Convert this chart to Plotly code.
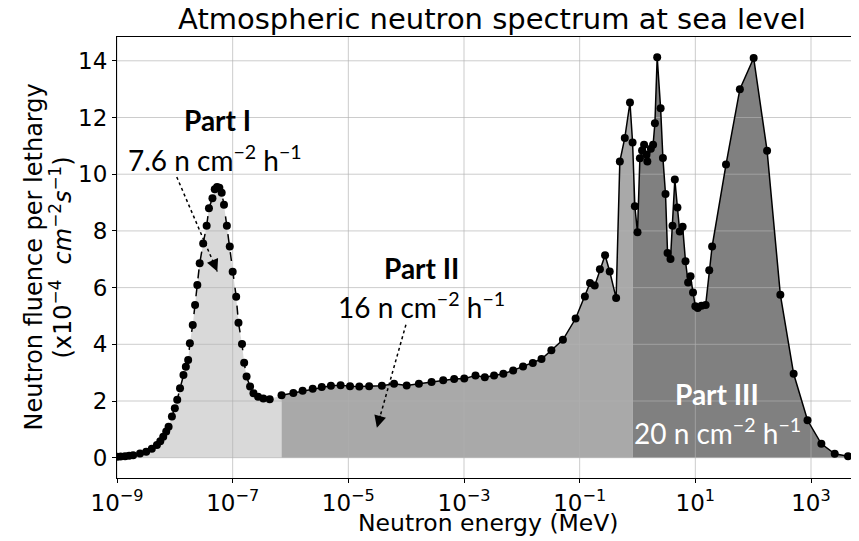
import plotly.graph_objects as go

# Part I: thermal peak (energy in MeV, fluence per lethargy x1e-4 cm^-2 s^-1)
energy_1 = [1.0e-9, 1.15e-9, 1.38e-9, 1.62e-9, 1.9e-9, 2.5e-9, 3.2e-9, 4.0e-9, 4.9e-9,
            5.6e-9, 6.3e-9, 7.1e-9, 7.8e-9, 8.9e-9, 1.0e-8, 1.1e-8, 1.23e-8, 1.41e-8,
            1.55e-8, 1.7e-8, 1.82e-8, 2.04e-8, 2.24e-8, 2.45e-8, 2.69e-8, 3.09e-8,
            3.55e-8, 3.89e-8, 4.47e-8, 4.9e-8, 5.37e-8, 5.89e-8, 6.46e-8, 7.08e-8,
            7.94e-8, 8.91e-8, 1.0e-7, 1.15e-7, 1.26e-7, 1.45e-7, 1.58e-7, 1.74e-7,
            2.0e-7, 2.29e-7, 2.75e-7, 3.39e-7, 4.37e-7]
fluence_1 = [0.03, 0.04, 0.05, 0.07, 0.09, 0.15, 0.21, 0.32, 0.45,
             0.58, 0.74, 0.92, 1.09, 1.45, 1.74, 2.04, 2.45, 2.92,
             3.21, 3.45, 4.04, 4.68, 5.39, 6.09, 6.86, 7.56,
             8.18, 8.80, 9.15, 9.47, 9.55, 9.52, 9.35, 8.92,
             8.18, 7.45, 6.56, 5.68, 4.76, 4.01, 3.35, 2.86,
             2.51, 2.27, 2.15, 2.09, 2.06]

# Part II: epithermal
energy_2 = [7.0e-7, 1.12e-6, 1.62e-6, 2.42e-6, 3.47e-6, 5.0e-6, 7.36e-6, 1.07e-5,
            1.55e-5, 2.29e-5, 3.8e-5, 6.17e-5, 1.02e-4, 1.66e-4, 2.75e-4, 4.37e-4,
            6.76e-4, 1.01e-3, 1.58e-3, 2.29e-3, 3.31e-3, 4.79e-3, 7.08e-3, 1.05e-2,
            1.55e-2, 2.19e-2, 3.24e-2, 5.13e-2, 8.51e-2, 0.123, 0.151, 0.182,
            0.224, 0.275, 0.331, 0.427, 0.495, 0.603, 0.741, 0.822]
fluence_2 = [2.20, 2.28, 2.36, 2.43, 2.49, 2.54, 2.56, 2.52,
             2.51, 2.52, 2.54, 2.61, 2.55, 2.61, 2.67, 2.73,
             2.78, 2.79, 2.90, 2.84, 2.90, 2.96, 3.08, 3.22,
             3.34, 3.48, 3.79, 4.16, 4.91, 5.69, 6.16, 6.07,
             6.65, 7.14, 6.57, 5.63, 10.45, 11.28, 12.53, 11.12]

# Part III: fast / high-energy
energy_3 = [0.822, 0.90, 1.0, 1.10, 1.20, 1.30, 1.43, 1.48, 1.70, 1.86, 2.0, 2.19,
            2.51, 2.75, 3.05, 3.31, 3.72, 4.03, 4.42, 4.9, 5.37, 6.03, 6.76, 7.5,
            8.26, 9.12, 10.0, 11.0, 12.8, 15.1, 17.4, 19.5, 33.9, 58.9, 102, 174,
            295, 501, 871, 1510, 2570, 4370, 6760]
fluence_3 = [11.12, 8.87, 7.95, 10.56, 10.84, 11.04, 10.69, 10.45, 10.9, 11.04, 11.8, 14.13,
             12.33, 10.57, 9.30, 7.22, 7.01, 8.18, 9.81, 8.83, 7.98, 8.15, 6.93, 6.18,
             6.4, 5.83, 5.34, 5.28, 5.36, 5.39, 6.61, 7.45, 10.34, 13.0, 14.1, 10.83,
             5.75, 2.96, 1.32, 0.49, 0.14, 0.05, 0.03]

part_labels = ["Part I", "Part II", "Part III"]
part_totals = ["7.6 n cm<sup>−2</sup> h<sup>−1</sup>",
               "16 n cm<sup>−2</sup> h<sup>−1</sup>",
               "20 n cm<sup>−2</sup> h<sup>−1</sup>"]
fill_colors = ["#d9d9d9", "#a9a9a9", "#808080"]

x_tickvals = [1e-9, 1e-7, 1e-5, 1e-3, 1e-1, 1e1, 1e3]
x_ticktext = ["10<sup>−9</sup>", "10<sup>−7</sup>", "10<sup>−5</sup>", "10<sup>−3</sup>",
              "10<sup>−1</sup>", "10<sup>1</sup>", "10<sup>3</sup>"]
y_tickvals = [0, 2, 4, 6, 8, 10, 12, 14]

y_title_lines = ["Neutron fluence per lethargy",
                 "(x10<sup>−4</sup>  <i>cm</i><sup>−2</sup><i>s</i><sup>−1</sup>)"]

x_range_log = [-9, 3.83]
y_range = [-0.716, 14.84]
grid_color = "rgba(176,176,176,0.65)"

# the page body has an 8px margin, so the figure is 8px smaller and shifted
W, H = 851, 533
M = dict(l=109, r=0, t=29, b=63)
plot_w = W - M["l"] - M["r"]
plot_h = H - M["t"] - M["b"]

fig = go.Figure()

# filled regions (Part I fill runs up to the first Part II point)
fills = [
    (energy_1 + energy_2[:1], fluence_1 + fluence_2[:1]),
    (energy_2, fluence_2),
    (energy_3, fluence_3),
]
for (ex, fy), col in zip(fills, fill_colors):
    fig.add_trace(go.Scatter(x=ex, y=fy, mode="lines", line=dict(width=0),
                             fill="tozeroy", fillcolor=col, hoverinfo="skip"))

# grid drawn over the fills but under the curve (like matplotlib)
x_lo, x_hi = 10 ** x_range_log[0], 10 ** x_range_log[1]
for xv in x_tickvals:
    fig.add_trace(go.Scatter(x=[xv, xv], y=y_range, mode="lines",
                             line=dict(color=grid_color, width=1), hoverinfo="skip"))
for yv in y_tickvals:
    fig.add_trace(go.Scatter(x=[x_lo, x_hi], y=[yv, yv], mode="lines",
                             line=dict(color=grid_color, width=1), hoverinfo="skip"))

# the spectrum itself
fig.add_trace(go.Scatter(x=energy_1, y=fluence_1, mode="lines+markers",
                         line=dict(color="black", width=1.5, dash="dash"),
                         marker=dict(color="black", size=8)))
fig.add_trace(go.Scatter(x=energy_2 + energy_3[1:], y=fluence_2 + fluence_3[1:],
                         mode="lines+markers",
                         line=dict(color="black", width=1.5),
                         marker=dict(color="black", size=8)))

# dotted arrow shafts
arrow_shafts = [([1.08e-8, 5.42e-8], [9.90, 6.57]), ([9.9e-5, 3.12e-5], [4.69, 1.06])]
for ax_, ay_ in arrow_shafts:
    fig.add_trace(go.Scatter(x=ax_, y=ay_, mode="lines",
                             line=dict(color="black", width=1.5, dash="dot"),
                             hoverinfo="skip"))

# arrow heads
for (tx, ty), (dx, dy) in [((-7.266, 6.57), (-5.5, -12.9)), ((-4.506, 1.06), (3.8, -13.5))]:
    fig.add_annotation(x=tx, y=ty, xref="x", yref="y", text="", showarrow=True,
                       ax=dx, ay=dy, arrowhead=2, arrowsize=1.6, arrowwidth=1.5,
                       arrowcolor="black")

# part labels
label_pos = [(-7.27, 11.9, -7.31, 10.55, "black"),
             (-3.73, 6.70, -3.74, 5.36, "black"),
             (1.375, 2.26, 1.375, 0.92, "white")]
for lab, tot, (lx, ly, tx, ty, col) in zip(part_labels, part_totals, label_pos):
    fig.add_annotation(x=lx, y=ly, xref="x", yref="y", text="<b>" + lab + "</b>",
                       showarrow=False, font=dict(family="Lato", size=28, color=col))
    fig.add_annotation(x=tx, y=ty, xref="x", yref="y", text=tot,
                       showarrow=False, font=dict(family="Lato", size=28, color=col))

# axis titles as paper annotations so they don't push the plot area
fig.add_annotation(text="Neutron energy (MeV)", xref="paper", yref="paper",
                   x=0.5, y=-(515 - (H - M["b"])) / plot_h,
                   xanchor="center", yanchor="middle", showarrow=False,
                   font=dict(family="DejaVu Sans", size=23.5, color="black"))
for line, px in zip(y_title_lines, [25, 52]):
    fig.add_annotation(text=line, xref="paper", yref="paper", textangle=-90,
                       x=-(M["l"] - px) / plot_w, y=0.5,
                       xanchor="center", yanchor="middle", showarrow=False,
                       font=dict(family="DejaVu Sans", size=24, color="black"))

fig.update_layout(
    width=W, height=H,
    margin=M,
    plot_bgcolor="white", paper_bgcolor="white",
    showlegend=False,
    font=dict(family="DejaVu Sans", size=23, color="black"),
    title=dict(text="Atmospheric neutron spectrum at sea level",
               x=484 / W, xref="container", xanchor="center",
               y=1 - 11 / H, yref="container", yanchor="middle",
               font=dict(family="DejaVu Sans", size=29, color="black")),
)
fig.update_xaxes(type="log", range=x_range_log, tickvals=x_tickvals, ticktext=x_ticktext,
                 showgrid=False, zeroline=False, showline=True, linecolor="black",
                 linewidth=1.2, mirror=True, ticks="outside", ticklen=4, tickcolor="black",
                 automargin=False)
fig.update_yaxes(range=y_range, tickvals=y_tickvals, showgrid=False, zeroline=False,
                 showline=True, linecolor="black", linewidth=1.2, ticks="outside",
                 ticklen=4, tickcolor="black", automargin=False)

fig.write_html("out.html")
